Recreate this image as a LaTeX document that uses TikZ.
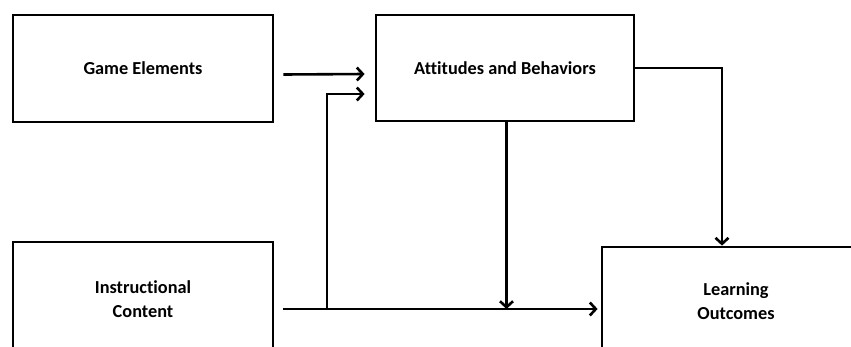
\documentclass[tikz,border=0pt]{standalone}
\usepackage{fontspec}
\setmainfont{Carlito}[RawFeature=-liga]
\usetikzlibrary{arrows.meta}
\begin{document}
\begin{tikzpicture}[x=1pt,y=-1pt,
  box/.style={draw, line width=2.8pt, rectangle, inner sep=0pt, align=center,
    font=\bfseries\fontsize{18.3}{24}\selectfont,
    minimum width=260pt, minimum height=107pt},
  arr/.style={line width=2.6pt, -{Straight Barb[length=6pt,width=13pt]}}
]
\useasboundingbox (0,0) rectangle (851,346);
\clip (0,0) rectangle (851,346);

% the four blocks
\node[box] (ge) at (143,68.5) {Game Elements};
\node[box, minimum width=258pt, minimum height=106pt] (ab) at (505,68) {Attitudes and Behaviors};
\node[box, minimum height=114pt] (ic) at (143,299) {Instructional\\Content};
\node[box, minimum width=268pt, minimum height=108pt] (lo) at (736,301) {Learning\\Outcomes};

% helper points on the lower horizontal line
\coordinate (h) at (0,309);
\coordinate (j) at (327,309);

% connectors
\draw[arr] ([xshift=9pt,yshift=-6pt]ge.east) -- ([xshift=-10pt,yshift=-6pt]ab.west);
\draw[arr] ([xshift=9pt]ic.east |- h) -- ([xshift=-3pt]lo.west |- h);
\draw[arr] (j) |- ([xshift=-10pt,yshift=-26pt]ab.west);
\draw[arr] ([xshift=1.5pt]ab.south) -- ([xshift=1.5pt]ab.south |- h);
\draw[arr] (ab.east) -| ([xshift=-14pt]lo.north);
\end{tikzpicture}
\end{document}
